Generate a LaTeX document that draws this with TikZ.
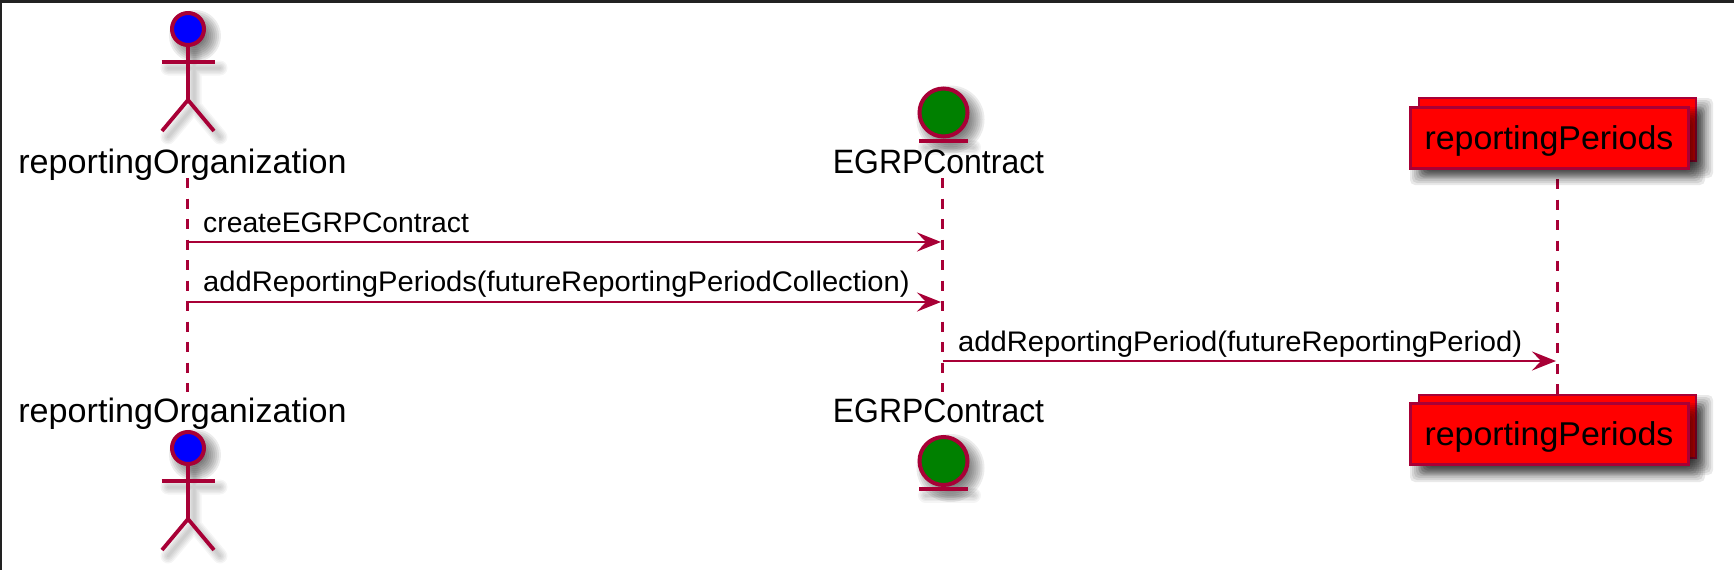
\documentclass[tikz,border=0pt]{standalone}
\usepackage{fontspec}
\setmainfont{Liberation Sans}
\newfontfamily\orgfont[FakeStretch=1.01]{Liberation Sans}
\newfontfamily\contractfont[FakeStretch=.945]{Liberation Sans}
\newfontfamily\periodfont[FakeStretch=1.028]{Liberation Sans}
\newfontfamily\msgwide[FakeStretch=1.03]{Liberation Sans}
\usetikzlibrary{arrows.meta}
\definecolor{plum}{HTML}{A80036}
\definecolor{edgedark}{HTML}{222222}
\definecolor{entitygreen}{HTML}{008000}
\tikzset{
  x=1pt,y=-1pt,
  actorlabel/.style={anchor=base,font=\fontsize{33.8}{36}\selectfont,text=black,inner sep=0pt},
  msglabel/.style={anchor=base west,font=\fontsize{28.3}{32}\selectfont,text=black,inner sep=0pt},
  boxfront/.style={draw=plum,fill=red,line width=3pt,minimum width=278pt,minimum height=61pt,inner sep=0pt},
  boxback/.style={draw=plum,fill=red,line width=2.5pt,minimum width=277pt,minimum height=63pt,inner sep=0pt},
  lifeline/.style={draw=plum,line width=2.1pt,dash pattern=on 10pt off 10.5pt},
  message/.style={draw=plum,line width=2.6pt,-{Stealth[length=24pt,width=19pt,inset=9pt]}},
  limb/.style={draw=plum,line width=3.8pt},
  disc/.style={draw=plum,line width=4pt},
}
% soft shadows built from stacked translucent layers
\newcommand{\softrect}[4]{% x1,y1,x2,y2 of the shadow
  \foreach \d in {-8,-6,-4,-2,0,2,4,6,8}{%
    \fill[black,fill opacity=.085,rounded corners=5pt] (#1-\d,#2-\d) rectangle (#3+\d,#4+\d);%
  }%
}
\newcommand{\softdisc}[3]{% x,y,r of the shadow
  \foreach \d in {-8,-6,-4,-2,0,2,4,6,8}{%
    \fill[black,fill opacity=.075] (#1,#2) circle[radius=#3+\d];%
  }%
}
\newcommand{\softline}[2][6]{%
  \foreach \w in {3,6,9,12,15}{%
    \path[shift={(#1,#1)},draw=black,draw opacity=.04,line width=\w pt,line join=round,line cap=round] #2;%
  }%
}
\newcommand{\stickman}[2]{% x, head y
  \softdisc{#1+7}{#2+7}{18}
  \softline{(#1,#2+18)--(#1,#2+71) (#1-26,#2+33)--(#1+26,#2+33) (#1-26,#2+102)--(#1,#2+71)--(#1+26,#2+102)}
  \draw[limb] (#1,#2+18)--(#1,#2+71);
  \draw[limb] (#1-26.5,#2+33)--(#1+26.5,#2+33);
  \draw[limb] (#1-26,#2+102)--(#1,#2+71)--(#1+26,#2+102);
  \draw[disc,fill=blue] (#1,#2) circle[radius=16];
}
\newcommand{\entitymark}[3]{% x, centre y, bar y
  \softdisc{#1+7}{#2+7}{26}
  \softline[6]{(#1-24,#3)--(#1+24,#3)}
  \draw[disc,fill=entitygreen] (#1,#2) circle[radius=24];
  \draw[limb] (#1-24.5,#3)--(#1+24.5,#3);
}
\begin{document}
\begin{tikzpicture}
\useasboundingbox (0,0) rectangle (1734,570);
\fill[white] (0,0) rectangle (1734,570);
\fill[edgedark] (0,0) rectangle (1734,3);
\fill[edgedark] (0,0) rectangle (2,570);

% anchors of the lifelines
\coordinate (roTop) at (187.5,178);
\coordinate (roBot) at (187.5,392);
\coordinate (ecTop) at (942.5,178);
\coordinate (ecBot) at (942.5,392);
\coordinate (rpTop) at (1557.5,179);
\coordinate (rpBot) at (1557.5,394);

\draw[lifeline] (roTop) -- (roBot);
\draw[lifeline] (ecTop) -- (ecBot);
\draw[lifeline] (rpTop) -- (rpBot);

% actor, top and bottom
\stickman{188}{29}
\node[actorlabel,font=\orgfont\fontsize{33.8}{36}\selectfont] (roLabelTop) at (182.5,173) {reportingOrganization};
\stickman{188}{448}
\node[actorlabel,font=\orgfont\fontsize{33.8}{36}\selectfont] (roLabelBot) at (182.5,422) {reportingOrganization};

% entity, top and bottom
\entitymark{943.5}{112.5}{141}
\node[actorlabel,font=\contractfont\fontsize{33.8}{36}\selectfont] (ecLabelTop) at (938.5,173) {EGRPContract};
\entitymark{943.5}{461}{489}
\node[actorlabel,font=\contractfont\fontsize{33.8}{36}\selectfont] (ecLabelBot) at (938.5,422) {EGRPContract};

% collection, top
\softrect{1427}{106}{1705}{170}
\node[boxback] (rpBackTop) at (1557.5,129.5) {};
\softrect{1418}{115}{1697}{177}
\node[boxfront] (rpTopBox) at (1549,137.5) {};
\node[actorlabel,font=\periodfont\fontsize{33}{36}\selectfont] (rpLabelTop) at (1549,149) {reportingPeriods};

% collection, bottom
\softrect{1427}{403}{1705}{467}
\node[boxback] (rpBackBot) at (1557.5,426.5) {};
\softrect{1418}{411}{1697}{474}
\node[boxfront] (rpBotBox) at (1549,434) {};
\node[actorlabel,font=\periodfont\fontsize{33}{36}\selectfont] (rpLabelBot) at (1549,445) {reportingPeriods};

% messages
\coordinate (m1a) at (187.5,242);
\coordinate (m1b) at (941,242);
\coordinate (m2a) at (187.5,302);
\coordinate (m2b) at (941,302);
\coordinate (m3a) at (942.5,361);
\coordinate (m3b) at (1556,361);
\draw[message] (m1a) -- (m1b);
\draw[message] (m2a) -- (m2b);
\draw[message] (m3a) -- (m3b);
\node[msglabel] (m1t) at (203,232) {createEGRPContract};
\node[msglabel,font=\msgwide\fontsize{28.3}{32}\selectfont] (m2t) at (203,291.5) {addReportingPeriods(futureReportingPeriodCollection)};
\node[msglabel,font=\msgwide\fontsize{28.3}{32}\selectfont] (m3t) at (958,351) {addReportingPeriod(futureReportingPeriod)};
\end{tikzpicture}
\end{document}
